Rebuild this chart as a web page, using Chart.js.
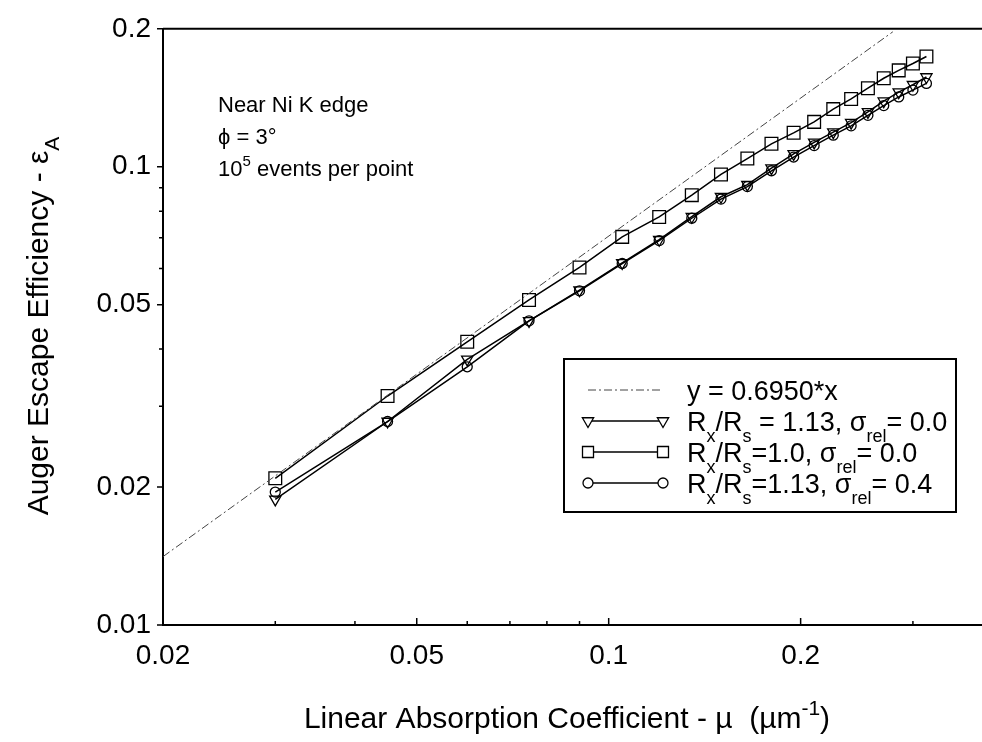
<!DOCTYPE html>
<html>
<head>
<meta charset="utf-8">
<script src="https://cdn.jsdelivr.net/npm/chart.js@4.4.0/dist/chart.umd.min.js"></script>
<style>
html,body{margin:0;padding:0;background:#fff;}
#wrap{width:982px;height:742px;position:relative;}
</style>
</head>
<body>
<div id="wrap"><canvas id="c" width="982" height="742"></canvas></div>
<script>
// ---- data ----
const muValues = [0.03,0.045,0.06,0.075,0.09,0.105,0.12,0.135,0.15,0.165,0.18,0.195,0.21,0.225,0.24,0.255,0.27,0.285,0.30,0.315];
const effR113Sig0 = [0.0188,0.0278,0.0380,0.0461,0.0538,0.0617,0.0693,0.0778,0.0860,0.0914,0.0993,0.1067,0.1130,0.1190,0.1248,0.1317,0.1390,0.1455,0.1510,0.1570];
const effR100Sig0 = [0.0209,0.0316,0.0415,0.0512,0.0603,0.0703,0.0777,0.0867,0.0962,0.1042,0.1122,0.1186,0.1253,0.1336,0.1406,0.1484,0.1560,0.1623,0.1680,0.1740];
const effR113Sig04 = [0.0195,0.0278,0.0366,0.0461,0.0536,0.0615,0.0690,0.0772,0.0850,0.0905,0.0980,0.1050,0.1112,0.1172,0.1228,0.1295,0.1360,0.1420,0.1470,0.1520];
const fitMu = [0.02,0.279];
const fitEff = [0.0141,0.197];
const xTickValues = [0.02,0.05,0.1,0.2];
const xTickLabels = ['0.02','0.05','0.1','0.2'];
const yTickValues = [0.01,0.02,0.05,0.1,0.2];
const yTickLabels = ['0.01','0.02','0.05','0.1','0.2'];
const xMinorTicks = [0.03,0.04,0.06,0.07,0.08,0.09,0.3];
const yMinorTicks = [0.03,0.04,0.06,0.07,0.08,0.09];

const FONT = '"Liberation Sans", Arial, Helvetica, sans-serif';
const TARGET = {left:163, top:23, right:982, bottom:625};

function pts(xs, ys){ return xs.map((x,i)=>({x:x,y:ys[i]})); }

function drawRich(ctx, x, y, parts, fs, subFs, subDy){
  let cx = x;
  for(const p of parts){
    let size = fs, dy = 0;
    if(p.sub){ size = subFs || Math.round(fs*0.7); dy = (subDy!==undefined? subDy : fs*0.38); }
    if(p.sup){ size = Math.round(fs*0.7); dy = -fs*0.45; }
    ctx.font = size + 'px ' + FONT;
    ctx.fillText(p.t, cx, y+dy);
    cx += ctx.measureText(p.t).width;
  }
  return cx - x;
}
function richWidth(ctx, parts, fs){
  let w=0;
  for(const p of parts){
    const size = (p.sub||p.sup)? Math.round(fs*0.7) : fs;
    ctx.font = size + 'px ' + FONT;
    w += ctx.measureText(p.t).width;
  }
  return w;
}
function drawMarker(ctx, style, x, y){
  ctx.beginPath();
  if(style==='tri'){
    const r=6.5;
    ctx.moveTo(x, y+r); ctx.lineTo(x-r*0.866, y-r*0.5); ctx.lineTo(x+r*0.866, y-r*0.5); ctx.closePath();
  } else if(style==='rect'){
    ctx.rect(x-5.5, y-5.5, 11, 11);
  } else {
    ctx.arc(x, y, 5, 0, Math.PI*2);
  }
  ctx.fillStyle='#fff'; ctx.fill();
  ctx.stroke();
}

const decor = {
  id:'decor',
  afterDraw(chart){
    const ctx = chart.ctx, a = chart.chartArea;
    const xs = chart.scales.x, ys = chart.scales.y;
    ctx.save();
    ctx.strokeStyle='#000'; ctx.fillStyle='#000';
    // top frame line
    ctx.lineWidth=2;
    ctx.beginPath(); ctx.moveTo(a.left, a.top); ctx.lineTo(a.right, a.top); ctx.stroke();
    // ticks
    ctx.lineWidth=1.5;
    ctx.beginPath();
    xTickValues.forEach(v=>{const px=xs.getPixelForValue(v); ctx.moveTo(px,a.bottom); ctx.lineTo(px,a.bottom-7);});
    xMinorTicks.forEach(v=>{const px=xs.getPixelForValue(v); ctx.moveTo(px,a.bottom); ctx.lineTo(px,a.bottom-4);});
    yTickValues.forEach(v=>{const py=ys.getPixelForValue(v); ctx.moveTo(a.left,py); ctx.lineTo(a.left-6,py);});
    yMinorTicks.forEach(v=>{const py=ys.getPixelForValue(v); ctx.moveTo(a.left,py); ctx.lineTo(a.left-4,py);});
    ctx.stroke();

    ctx.textBaseline='alphabetic'; ctx.textAlign='left';
    // x title
    const xt = [{t:'Linear Absorption Coefficient - \u00b5  (\u00b5m'},{t:'-1',sup:true},{t:')'}];
    const xw = richWidth(ctx, xt, 30);
    drawRich(ctx, 567 - xw/2, 728, xt, 30);
    // y title
    const yt = [{t:'Auger Escape Efficiency - \u03b5'},{t:'A',sub:true}];
    const yw = richWidth(ctx, yt, 30);
    ctx.save(); ctx.translate(48, 326); ctx.rotate(-Math.PI/2);
    drawRich(ctx, -yw/2, 0, yt, 30);
    ctx.restore();

    // annotation
    drawRich(ctx, 218, 112, [{t:'Near Ni K edge'}], 22);
    drawRich(ctx, 218, 144, [{t:'\u03d5 = 3\u00b0'}], 22);
    drawRich(ctx, 218, 176, [{t:'10'},{t:'5',sup:true},{t:' events per point'}], 22);

    // legend box
    ctx.lineWidth=2;
    ctx.fillStyle='#fff';
    ctx.fillRect(564,359,392,153);
    ctx.strokeRect(564,359,392,153);
    ctx.fillStyle='#000';
    const rows = [
      {y:390, style:null, parts:[{t:'y = 0.6950*x'}]},
      {y:421, style:'tri', parts:[{t:'R'},{t:'x',sub:true},{t:'/R'},{t:'s',sub:true},{t:' = 1.13, \u03c3'},{t:'rel',sub:true},{t:'= 0.0'}]},
      {y:452, style:'rect', parts:[{t:'R'},{t:'x',sub:true},{t:'/R'},{t:'s',sub:true},{t:'=1.0, \u03c3'},{t:'rel',sub:true},{t:'= 0.0'}]},
      {y:483, style:'circ', parts:[{t:'R'},{t:'x',sub:true},{t:'/R'},{t:'s',sub:true},{t:'=1.13, \u03c3'},{t:'rel',sub:true},{t:'= 0.4'}]}
    ];
    rows.forEach(r=>{
      ctx.beginPath();
      if(!r.style){
        ctx.strokeStyle='#444'; ctx.lineWidth=1; ctx.setLineDash([8,3,2,3]);
        ctx.moveTo(588,r.y); ctx.lineTo(663,r.y); ctx.stroke(); ctx.setLineDash([]);
      } else {
        ctx.strokeStyle='#000'; ctx.lineWidth=1.5;
        ctx.moveTo(588,r.y); ctx.lineTo(663,r.y); ctx.stroke();
        ctx.lineWidth=1.3;
        drawMarker(ctx, r.style, 588, r.y);
        drawMarker(ctx, r.style, 663, r.y);
      }
      ctx.fillStyle='#000';
      drawRich(ctx, 687, r.y+10, r.parts, 27, 18, 11);
    });
    ctx.restore();
  }
};

const common = {showLine:true, borderColor:'#000', borderWidth:1.5, backgroundColor:'rgba(0,0,0,0)', pointBorderColor:'#000', pointBackgroundColor:'rgba(0,0,0,0)', pointBorderWidth:1.3};

const chart = new Chart(document.getElementById('c'), {
  type:'scatter',
  data:{
    datasets:[
      {label:'y = 0.6950*x', data:pts(fitMu, fitEff), showLine:true, borderColor:'#444', borderWidth:1, borderDash:[8,3,2,3], pointRadius:0},
      Object.assign({label:'Rx/Rs = 1.13, σrel = 0.0', data:pts(muValues, effR113Sig0), pointStyle:'triangle', rotation:180, pointRadius:6.5}, common),
      Object.assign({label:'Rx/Rs = 1.0, σrel = 0.0', data:pts(muValues, effR100Sig0), pointStyle:'rect', pointRadius:9}, common),
      Object.assign({label:'Rx/Rs = 1.13, σrel = 0.4', data:pts(muValues, effR113Sig04), pointStyle:'circle', pointRadius:5}, common)
    ]
  },
  options:{
    responsive:false, animation:false, devicePixelRatio:1,
    layout:{autoPadding:false, padding:{left:0, right:0, top:23, bottom:0}},
    plugins:{legend:{display:false}, tooltip:{enabled:false}},
    scales:{
      x:{
        type:'logarithmic', position:'bottom', min:0.02, max:0.385,
        afterBuildTicks:s=>{ s.ticks = xTickValues.map(v=>({value:v})); },
        afterFit:s=>{ s.height = 117; s.paddingLeft = 0; s.paddingRight = 0; },
        ticks:{autoSkip:false, maxRotation:0, color:'#000', padding:14, font:{family:FONT, size:28},
          callback:(v)=>{ const i = xTickValues.indexOf(v); return i>=0 ? xTickLabels[i] : ''; }},
        grid:{display:false, drawTicks:false},
        border:{display:true, color:'#000', width:2}
      },
      y:{
        type:'logarithmic', position:'left', min:0.01, max:0.2,
        afterBuildTicks:s=>{ s.ticks = yTickValues.map(v=>({value:v})); },
        afterFit:s=>{ s.width = 163; },
        ticks:{autoSkip:false, color:'#000', padding:12, font:{family:FONT, size:28},
          callback:(v)=>{ const i = yTickValues.indexOf(v); return i>=0 ? yTickLabels[i] : ''; }},
        grid:{display:false, drawTicks:false},
        border:{display:true, color:'#000', width:2}
      }
    }
  },
  plugins:[decor]
});
// nudge layout padding so the plot area lands where the reference has it
for(let k=0;k<3;k++){
  const a = chart.chartArea, p = chart.options.layout.padding;
  const dt = TARGET.top - a.top, dr = a.right - TARGET.right;
  if(Math.abs(dt)<0.5 && Math.abs(dr)<0.5) break;
  p.top += dt; p.right += dr;
  chart.update();
}
</script>
</body>
</html>
